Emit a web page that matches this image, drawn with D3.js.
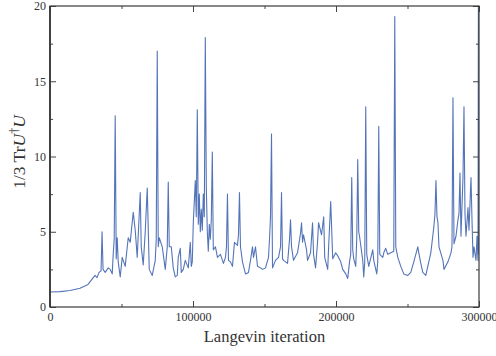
<!DOCTYPE html>
<html>
<head>
<meta charset="utf-8">
<script src="https://cdn.jsdelivr.net/npm/d3@7"></script>
<style>
  body { margin: 0; background: #fff; }
  text { font-family: "Liberation Serif", "Times New Roman", serif; fill: #333; }
</style>
</head>
<body>
<svg id="chart" width="496" height="356"></svg>
<script>
// Langevin trace
const iters = [
  0, 7000, 14000, 21000, 26600, 29400, 31500, 32900, 34300, 35700,
  36400, 37100, 38600, 40700, 42100, 43500, 44200, 44900, 45600, 46300,
  47000, 47700, 49100, 50500, 51900, 52600, 54700, 56100, 58200, 59600,
  61000, 63100, 63800, 65200, 66600, 68000, 69400, 71500, 73600, 74300,
  75000, 75700, 76400, 78500, 80600, 82000, 82700, 83400, 84800, 86200,
  87600, 89000, 89700, 91100, 91800, 93200, 94600, 96700, 98100, 98800,
  99500, 100200, 100900, 101600, 102300, 103000, 103700, 104400, 105100, 105800,
  106500, 107200, 107900, 108600, 109300, 110000, 110700, 111400, 112100, 112800,
  113500, 114200, 115700, 117100, 119200, 121300, 122700, 123400, 124100, 124800,
  126200, 127600, 129000, 131100, 131800, 132500, 133200, 134600, 136700, 138800,
  140200, 141600, 142300, 143700, 145100, 147200, 148600, 150700, 152800, 153500,
  154200, 154900, 155600, 157700, 159800, 161200, 161900, 162600, 163300, 166100,
  167500, 168200, 168900, 170300, 173100, 175200, 175900, 176600, 177300, 179400,
  180100, 182200, 183600, 184300, 185700, 187100, 187800, 189900, 191400, 192100,
  194200, 194900, 196300, 197700, 199800, 201200, 203300, 204700, 206800, 208200,
  209600, 210300, 211000, 211700, 212400, 213800, 214500, 215200, 215900, 216600,
  218700, 219400, 220100, 220800, 221500, 222900, 225700, 226400, 228500, 229200,
  229900, 230600, 232700, 233400, 234800, 236200, 238300, 240400, 241100, 241800,
  243200, 245300, 247400, 250200, 252300, 254400, 257200, 257900, 259300, 260700,
  262800, 264900, 266300, 268400, 269200, 269900, 270600, 271300, 272000, 274800,
  275500, 278300, 280400, 281100, 281800, 282500, 283900, 285300, 286000, 286700,
  287400, 288800, 289500, 290200, 290900, 292300, 293000, 294400, 295100, 295800,
  296500, 297900, 298600, 299300, 299600, 300000
];
const trace = [
  1.0, 1.02, 1.1, 1.25, 1.5, 1.85, 2.1, 1.95, 2.3, 2.4,
  5.0, 2.5, 2.3, 2.6, 2.5, 2.2, 3.5, 4.5, 12.7, 3.2,
  4.6, 3.0, 2.0, 3.3, 2.9, 2.7, 4.6, 4.3, 6.3, 5.1,
  3.3, 7.6, 4.0, 2.8, 5.0, 7.9, 2.5, 2.1, 3.1, 4.5,
  17.0, 4.0, 4.6, 4.0, 2.5, 4.0, 8.3, 4.0, 4.0, 2.6,
  2.0, 2.1, 3.3, 3.9, 2.3, 2.5, 3.1, 2.6, 4.3, 2.7,
  3.0, 5.6, 7.0, 8.4, 6.0, 13.1, 5.5, 7.5, 5.0, 6.5,
  5.1, 7.5, 6.0, 17.9, 8.0, 5.0, 3.7, 5.5, 4.5, 5.8,
  10.3, 3.8, 4.0, 3.3, 3.5, 2.9, 3.3, 4.0, 7.5, 3.1,
  3.0, 2.7, 4.3, 4.1, 4.8, 7.6, 4.0, 3.0, 2.2, 2.3,
  3.1, 4.0, 3.3, 4.0, 2.7, 2.6, 2.5, 2.6, 3.3, 4.5,
  6.0, 11.5, 2.6, 3.1, 3.3, 4.0, 7.6, 3.2, 3.1, 2.9,
  4.5, 5.8, 4.0, 3.1, 3.6, 4.9, 5.6, 4.3, 4.8, 3.8,
  3.1, 3.6, 5.6, 3.5, 2.6, 4.3, 5.6, 4.8, 6.0, 3.3,
  2.5, 4.1, 7.0, 3.2, 3.6, 3.4, 3.0, 2.5, 2.2, 1.9,
  3.1, 3.5, 8.6, 3.8, 3.2, 2.7, 4.5, 9.8, 5.0, 4.6,
  3.1, 2.0, 3.0, 13.3, 3.5, 2.7, 3.8, 3.1, 2.2, 3.0,
  12.0, 3.5, 3.3, 3.6, 3.9, 3.5, 3.6, 3.7, 19.3, 4.0,
  3.3, 2.7, 2.2, 2.1, 2.3, 3.0, 4.0, 3.6, 2.9, 2.3,
  2.1, 3.0, 3.6, 5.3, 6.2, 8.4, 6.0, 5.6, 4.0, 3.1,
  2.5, 3.0, 3.6, 4.0, 13.9, 4.2, 4.7, 5.8, 6.2, 8.9,
  4.7, 8.6, 13.3, 6.2, 4.7, 6.6, 5.1, 8.6, 5.8, 3.3,
  4.0, 3.1, 4.7, 3.1, 22, 3.5
];

const xTicks = [0, 100000, 200000, 300000];
const xMinor = [50000, 150000, 250000];
const yTicks = [0, 5, 10, 15, 20];
const yMinor = [2.5, 7.5, 12.5, 17.5];

const plotL = 50, plotR = 479, plotT = 6, plotB = 307;

const svg = d3.select('#chart');

const x = d3.scaleLinear().domain([0, 300000]).range([plotL, plotR]);
const y = d3.scaleLinear().domain([0, 20]).range([plotB, plotT]);

svg.append('clipPath').attr('id', 'plot')
  .append('rect')
  .attr('x', plotL).attr('y', plotT)
  .attr('width', plotR - plotL).attr('height', plotB - plotT);

const line = d3.line()
  .x(d => x(d[0]))
  .y(d => y(d[1]));

svg.append('path')
  .datum(d3.zip(iters, trace))
  .attr('clip-path', 'url(#plot)')
  .attr('fill', 'none')
  .attr('stroke', '#5474b9')
  .attr('stroke-width', 1.1)
  .attr('stroke-linejoin', 'round')
  .attr('d', line);

// axes: ticks point inwards on all four sides
function drawAxis(axis, tx, ty) {
  const g = svg.append('g').attr('transform', `translate(${tx},${ty})`).call(axis);
  g.select('.domain').remove();
  g.selectAll('line').attr('stroke', '#444').attr('stroke-width', 1);
  g.selectAll('text')
    .style('font-family', '"Liberation Serif", serif')
    .style('font-size', '12px')
    .attr('fill', '#333');
  return g;
}

drawAxis(d3.axisBottom(x).tickValues(xTicks).tickSize(-6).tickPadding(5).tickFormat(d3.format('d')), 0, plotB);
drawAxis(d3.axisBottom(x).tickValues(xMinor).tickSize(-3).tickFormat(''), 0, plotB);
drawAxis(d3.axisTop(x).tickValues(xTicks).tickSize(-6).tickFormat(''), 0, plotT);
drawAxis(d3.axisTop(x).tickValues(xMinor).tickSize(-3).tickFormat(''), 0, plotT);
drawAxis(d3.axisLeft(y).tickValues(yTicks).tickSize(-6).tickPadding(4), plotL, 0);
drawAxis(d3.axisLeft(y).tickValues(yMinor).tickSize(-3).tickFormat(''), plotL, 0);
drawAxis(d3.axisRight(y).tickValues(yTicks).tickSize(-6).tickFormat(''), plotR, 0);
drawAxis(d3.axisRight(y).tickValues(yMinor).tickSize(-3).tickFormat(''), plotR, 0);

svg.append('rect')
  .attr('x', plotL).attr('y', plotT)
  .attr('width', plotR - plotL).attr('height', plotB - plotT)
  .attr('fill', 'none')
  .attr('stroke', '#3a3a3a')
  .attr('stroke-width', 1.2);

svg.append('line')
  .attr('x1', plotL).attr('x2', plotL)
  .attr('y1', plotT).attr('y2', plotB)
  .attr('stroke', '#3a3a3a')
  .attr('stroke-width', 1.8);

svg.append('text')
  .attr('x', (plotL + plotR) / 2)
  .attr('y', 342)
  .attr('text-anchor', 'middle')
  .style('font-size', '16.5px')
  .text('Langevin iteration');

const ylab = svg.append('text')
  .attr('transform', `translate(25,152) rotate(-90)`)
  .attr('text-anchor', 'middle')
  .style('font-size', '17.5px');
ylab.append('tspan').text('1/3 Tr');
ylab.append('tspan').style('font-style', 'italic').text('U');
ylab.append('tspan').attr('dy', -7).style('font-size', '12px').text('\u2020');
ylab.append('tspan').attr('dy', 7).style('font-style', 'italic').text('U');
</script>
</body>
</html>
